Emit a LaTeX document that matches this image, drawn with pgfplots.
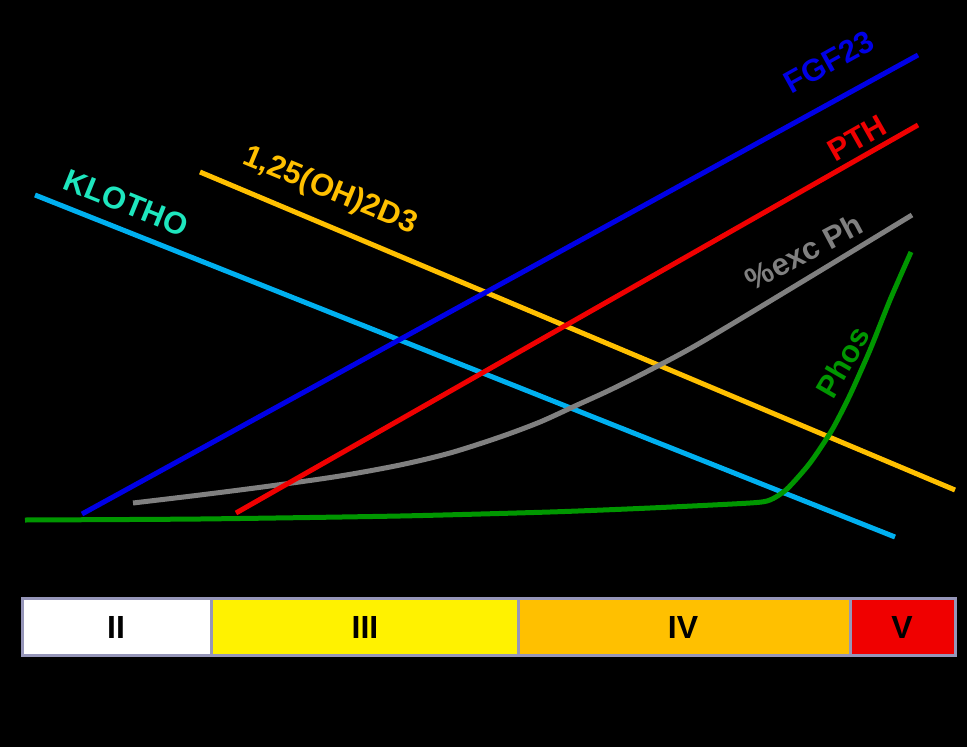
\documentclass[border=0pt]{standalone}
\usepackage{pgfplots}
\pgfplotsset{compat=1.18}
\usepackage{fontspec}
\setmainfont{Liberation Sans}
\definecolor{lblue}{RGB}{0,176,240}
\definecolor{orng}{RGB}{255,192,0}
\definecolor{fgfblue}{RGB}{0,0,230}
\definecolor{pthred}{RGB}{240,0,0}
\definecolor{gry}{RGB}{128,128,128}
\definecolor{grn}{RGB}{0,150,0}
\definecolor{turq}{RGB}{30,230,190}
\definecolor{frame}{RGB}{150,150,185}
\begin{document}
\begin{tikzpicture}
\begin{axis}[
  scale only axis, width=967pt, height=747pt,
  xmin=0, xmax=967, ymin=0, ymax=747, y dir=reverse,
  hide axis, clip=true,
]
% background
\addplot[fill=black, draw=none] coordinates {(0,0) (967,0) (967,747) (0,747)} -- cycle;
% stage bar
\addplot[fill=white, draw=none] coordinates {(22,598) (211,598) (211,655) (22,655)} -- cycle;
\addplot[fill=yellow, draw=none] coordinates {(211,598) (518,598) (518,655) (211,655)} -- cycle;
\addplot[fill=orng, draw=none] coordinates {(518,598) (850,598) (850,655) (518,655)} -- cycle;
\addplot[fill=pthred, draw=none] coordinates {(850,598) (955,598) (955,655) (850,655)} -- cycle;
\addplot[draw=frame, line width=3pt] coordinates {(22,598) (955,598) (955,655) (22,655)} -- cycle;
\addplot[draw=frame, line width=3pt] coordinates {(211,598) (211,655)};
\addplot[draw=frame, line width=3pt] coordinates {(518,598) (518,655)};
\addplot[draw=frame, line width=3pt] coordinates {(850,598) (850,655)};
% lines
\addplot[draw=lblue, line width=5pt] coordinates {(35,195) (895,537)};
\addplot[draw=orng, line width=5pt] coordinates {(200,172) (955,490)};
\addplot[draw=gry, line width=5pt, smooth, tension=0.5] coordinates {
 (133,503) (200,495) (270,486) (340,476) (400,465) (450,453) (500,437) (540,422) (575,406) (610,390) (650,370) (700,343) (800,283) (912,215)};
\addplot[draw=grn, line width=5pt, smooth, tension=0.4] coordinates {
 (25,520) (200,519) (400,516) (550,512) (650,508) (750,503) (770,500) (787,489) (810,463) (832,430) (850,395) (870,350) (890,300) (911,252)};
\addplot[draw=pthred, line width=5pt] coordinates {(236,513) (918,125)};
\addplot[draw=fgfblue, line width=5pt] coordinates {(82,514) (918,55)};
% labels
\node[text=turq, font=\bfseries\fontsize{31}{32}\selectfont, rotate=-22] at (axis cs:126,203) {KLOTHO};
\node[text=orng, font=\bfseries\fontsize{31}{32}\selectfont, rotate=-22.5] at (axis cs:330,191) {1,25(OH)2D3};
\node[text=fgfblue, font=\bfseries\fontsize{31}{32}\selectfont, rotate=29] at (axis cs:829,62) {FGF23};
\node[text=pthred, font=\bfseries\fontsize{31}{32}\selectfont, rotate=29.5] at (axis cs:857,138) {PTH};
\node[text=gry, font=\bfseries\fontsize{31}{32}\selectfont, rotate=28] at (axis cs:804,252) {\%exc Ph};
\node[text=grn, font=\bfseries\fontsize{31}{32}\selectfont, rotate=60] at (axis cs:843,362) {Phos};
\node[text=black, font=\bfseries\fontsize{32}{34}\selectfont] at (axis cs:116,627) {II};
\node[text=black, font=\bfseries\fontsize{32}{34}\selectfont] at (axis cs:365,627) {III};
\node[text=black, font=\bfseries\fontsize{32}{34}\selectfont] at (axis cs:683,627) {IV};
\node[text=black, font=\bfseries\fontsize{32}{34}\selectfont] at (axis cs:902,627) {V};
\end{axis}
\end{tikzpicture}
\end{document}
